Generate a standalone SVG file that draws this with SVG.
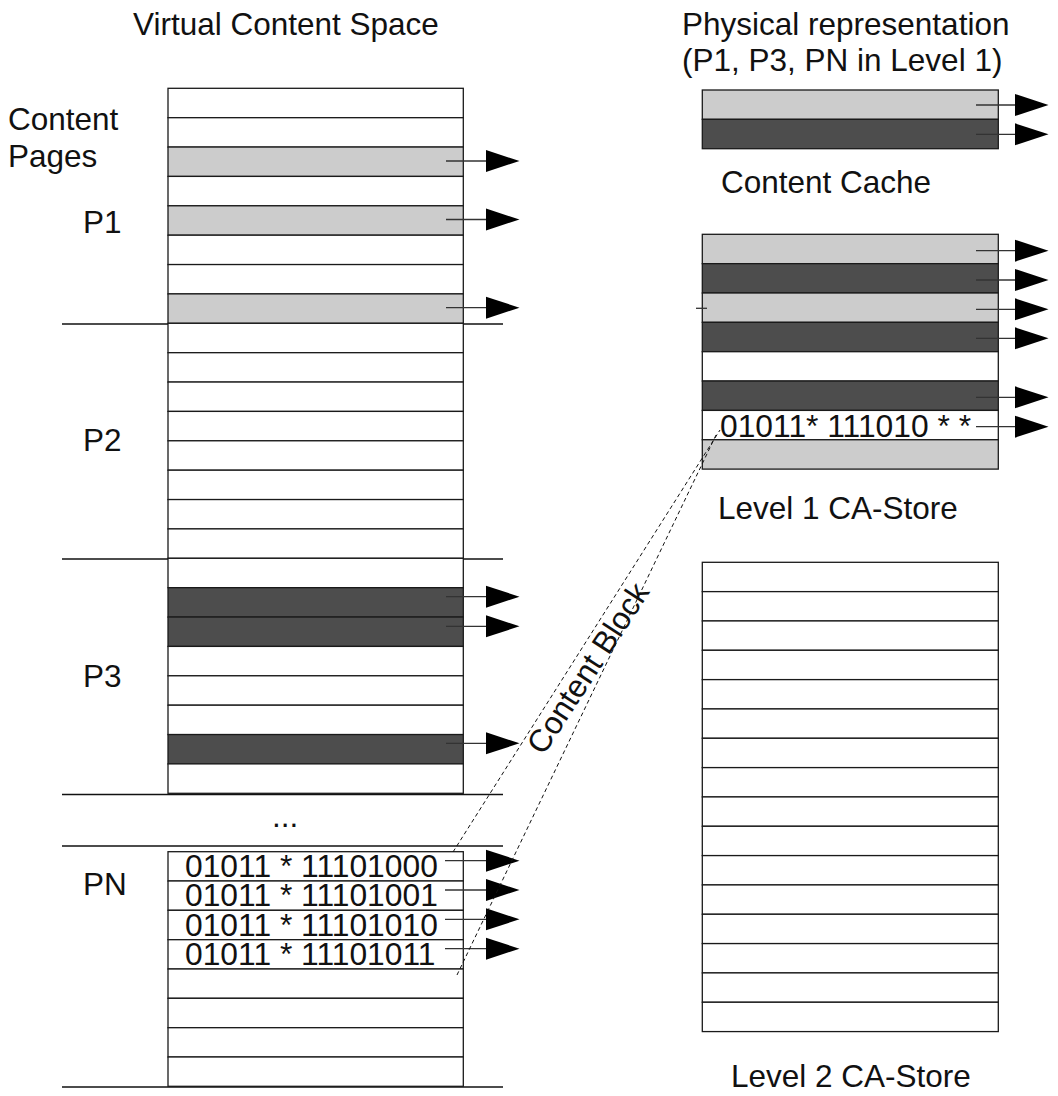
<svg xmlns="http://www.w3.org/2000/svg" width="1058" height="1096" viewBox="0 0 1058 1096">
<style>
text{font-family:"Liberation Sans",Arial,sans-serif;font-size:31.5px;fill:#111}
.code{font-size:31.8px}
.w{fill:#fff;stroke:#1a1a1a;stroke-width:1.3}
.l{fill:#cccccc;stroke:#1a1a1a;stroke-width:1.3}
.d{fill:#4d4d4d;stroke:#1a1a1a;stroke-width:1.3}
.sep{stroke:#111;stroke-width:1.3}
.al{stroke:#333;stroke-width:1.3}
.dash{stroke:#111;stroke-width:1;stroke-dasharray:4 3;fill:none}
</style>
<defs>
<path id="ah" d="M0,-11 L33.5,0 L0,11 Z" fill="#000"/>
</defs>
<rect width="1058" height="1096" fill="#fff"/>

<g id="labels">
<text x="133" y="35">Virtual Content Space</text>
<text x="682" y="35">Physical representation</text>
<text x="682" y="71">(P1, P3, PN in Level 1)</text>
<text x="8" y="130">Content</text>
<text x="8" y="167">Pages</text>
<text x="83" y="233">P1</text>
<text x="83" y="451">P2</text>
<text x="83" y="687">P3</text>
<text x="272" y="827">...</text>
<text x="83" y="895">PN</text>
<text x="721" y="193">Content Cache</text>
<text x="718" y="519">Level 1 CA-Store</text>
<text x="731" y="1087">Level 2 CA-Store</text>
</g>

<g id="separators">
<line class="sep" x1="62" y1="324" x2="503" y2="324"/>
<line class="sep" x1="62" y1="559" x2="503" y2="559"/>
<line class="sep" x1="62" y1="794.5" x2="503" y2="794.5"/>
<line class="sep" x1="62" y1="846" x2="503" y2="846"/>
<line class="sep" x1="62" y1="1087" x2="503" y2="1087"/>
</g>

<g id="virtual-space">
<rect class="w" x="168" y="88.3" width="295.3" height="29.4"/>
<rect class="w" x="168" y="117.7" width="295.3" height="29.4"/>
<rect class="l" x="168" y="147.05" width="295.3" height="29.4"/>
<rect class="w" x="168" y="176.4" width="295.3" height="29.4"/>
<rect class="l" x="168" y="205.8" width="295.3" height="29.4"/>
<rect class="w" x="168" y="235.2" width="295.3" height="29.4"/>
<rect class="w" x="168" y="264.55" width="295.3" height="29.4"/>
<rect class="l" x="168" y="293.9" width="295.3" height="29.4"/>
<rect class="w" x="168" y="323.3" width="295.3" height="29.4"/>
<rect class="w" x="168" y="352.7" width="295.3" height="29.4"/>
<rect class="w" x="168" y="382.05" width="295.3" height="29.4"/>
<rect class="w" x="168" y="411.4" width="295.3" height="29.4"/>
<rect class="w" x="168" y="440.8" width="295.3" height="29.4"/>
<rect class="w" x="168" y="470.2" width="295.3" height="29.4"/>
<rect class="w" x="168" y="499.55" width="295.3" height="29.4"/>
<rect class="w" x="168" y="528.9" width="295.3" height="29.4"/>
<rect class="w" x="168" y="558.3" width="295.3" height="29.4"/>
<rect class="d" x="168" y="587.7" width="295.3" height="29.4"/>
<rect class="d" x="168" y="617.05" width="295.3" height="29.4"/>
<rect class="w" x="168" y="646.4" width="295.3" height="29.4"/>
<rect class="w" x="168" y="675.8" width="295.3" height="29.4"/>
<rect class="w" x="168" y="705.2" width="295.3" height="29.4"/>
<rect class="d" x="168" y="734.55" width="295.3" height="29.4"/>
<rect class="w" x="168" y="763.9" width="295.3" height="29.4"/>
</g>

<g id="page-pn">
<rect class="w" x="168" y="851.7" width="295.3" height="29.3"/>
<rect class="w" x="168" y="881" width="295.3" height="29.3"/>
<rect class="w" x="168" y="910.3" width="295.3" height="29.4"/>
<rect class="w" x="168" y="939.7" width="295.3" height="29.3"/>
<rect class="w" x="168" y="969" width="295.3" height="29.3"/>
<rect class="w" x="168" y="998.3" width="295.3" height="29.4"/>
<rect class="w" x="168" y="1027.7" width="295.3" height="29.3"/>
<rect class="w" x="168" y="1057" width="295.3" height="29.3"/>
<text class="code" x="185" y="877">01011 * 11101000</text>
<text class="code" x="185" y="906.3">01011 * 11101001</text>
<text class="code" x="185" y="935.7">01011 * 11101010</text>
<text class="code" x="185" y="965">01011 * 11101011</text>
</g>

<g id="content-cache">
<rect class="l" x="702.3" y="90" width="296" height="29.35"/>
<rect class="d" x="702.3" y="119.35" width="296" height="29.35"/>
</g>

<g id="level1-store">
<rect class="l" x="702.3" y="234.3" width="296" height="29.35"/>
<rect class="d" x="702.3" y="263.65" width="296" height="29.35"/>
<rect class="l" x="702.3" y="293" width="296" height="29.35"/>
<rect class="d" x="702.3" y="322.35" width="296" height="29.35"/>
<rect class="w" x="702.3" y="351.7" width="296" height="29.35"/>
<rect class="d" x="702.3" y="381.05" width="296" height="29.35"/>
<rect class="w" x="702.3" y="410.4" width="296" height="29.35"/>
<rect class="l" x="702.3" y="439.75" width="296" height="29.35"/>
<line class="al" x1="696" y1="308.3" x2="707" y2="308.3"/>
<text class="code" x="720" y="437">01011* 111010 * *</text>
</g>

<g id="level2-store">
<rect class="w" x="702.3" y="562.3" width="296" height="29.33"/>
<rect class="w" x="702.3" y="591.63" width="296" height="29.33"/>
<rect class="w" x="702.3" y="620.96" width="296" height="29.33"/>
<rect class="w" x="702.3" y="650.29" width="296" height="29.33"/>
<rect class="w" x="702.3" y="679.62" width="296" height="29.33"/>
<rect class="w" x="702.3" y="708.95" width="296" height="29.33"/>
<rect class="w" x="702.3" y="738.28" width="296" height="29.33"/>
<rect class="w" x="702.3" y="767.61" width="296" height="29.33"/>
<rect class="w" x="702.3" y="796.94" width="296" height="29.33"/>
<rect class="w" x="702.3" y="826.27" width="296" height="29.33"/>
<rect class="w" x="702.3" y="855.6" width="296" height="29.33"/>
<rect class="w" x="702.3" y="884.93" width="296" height="29.33"/>
<rect class="w" x="702.3" y="914.26" width="296" height="29.33"/>
<rect class="w" x="702.3" y="943.59" width="296" height="29.33"/>
<rect class="w" x="702.3" y="972.92" width="296" height="29.33"/>
<rect class="w" x="702.3" y="1002.25" width="296" height="29.33"/>
</g>

<g id="connectors">
<line class="al" x1="446" y1="161" x2="486" y2="161"/><use href="#ah" x="486" y="161"/>
<line class="al" x1="446" y1="219.5" x2="486" y2="219.5"/><use href="#ah" x="486" y="219.5"/>
<line class="al" x1="446" y1="307.7" x2="486" y2="307.7"/><use href="#ah" x="486" y="307.7"/>
<line class="al" x1="446" y1="596.7" x2="486" y2="596.7"/><use href="#ah" x="486" y="596.7"/>
<line class="al" x1="446" y1="626.3" x2="486" y2="626.3"/><use href="#ah" x="486" y="626.3"/>
<line class="al" x1="446" y1="743.3" x2="486" y2="743.3"/><use href="#ah" x="486" y="743.3"/>
<line class="al" x1="445" y1="860.7" x2="486" y2="860.7"/><use href="#ah" x="486" y="860.7"/>
<line class="al" x1="445" y1="890" x2="486" y2="890"/><use href="#ah" x="486" y="890"/>
<line class="al" x1="445" y1="919.3" x2="486" y2="919.3"/><use href="#ah" x="486" y="919.3"/>
<line class="al" x1="445" y1="948.7" x2="486" y2="948.7"/><use href="#ah" x="486" y="948.7"/>
<line class="al" x1="976" y1="105" x2="1015" y2="105"/><use href="#ah" x="1015" y="105"/>
<line class="al" x1="976" y1="134.3" x2="1015" y2="134.3"/><use href="#ah" x="1015" y="134.3"/>
<line class="al" x1="976" y1="250.7" x2="1015" y2="250.7"/><use href="#ah" x="1015" y="250.7"/>
<line class="al" x1="976" y1="280" x2="1015" y2="280"/><use href="#ah" x="1015" y="280"/>
<line class="al" x1="976" y1="309.3" x2="1015" y2="309.3"/><use href="#ah" x="1015" y="309.3"/>
<line class="al" x1="976" y1="338.3" x2="1015" y2="338.3"/><use href="#ah" x="1015" y="338.3"/>
<line class="al" x1="976" y1="397.3" x2="1015" y2="397.3"/><use href="#ah" x="1015" y="397.3"/>
<line class="al" x1="976" y1="426.7" x2="1015" y2="426.7"/><use href="#ah" x="1015" y="426.7"/>
<line class="dash" x1="453" y1="852" x2="720" y2="430"/>
<line class="dash" x1="457" y1="975" x2="717" y2="433"/>
<text transform="translate(597,674) rotate(-57)" text-anchor="middle">Content Block</text>
</g>
</svg>
